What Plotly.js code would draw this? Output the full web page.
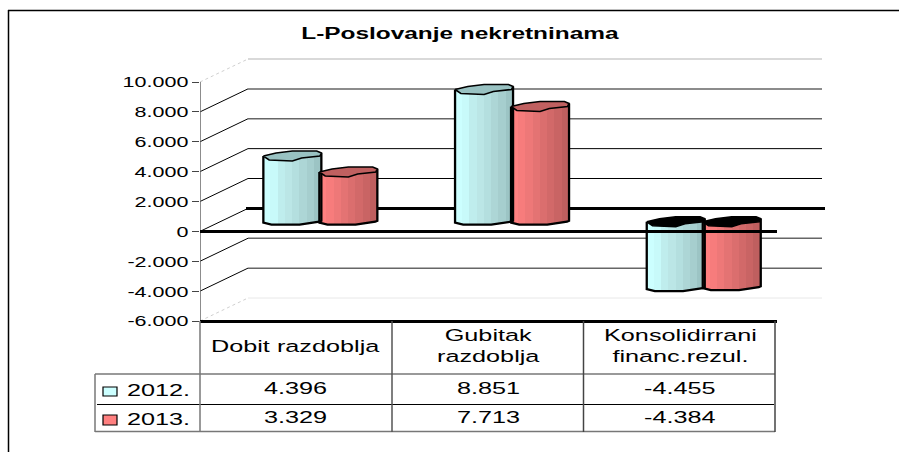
<!DOCTYPE html>
<html>
<head>
<meta charset="utf-8">
<script src="https://cdn.plot.ly/plotly-3.0.0.min.js"></script>
<style>
html,body{margin:0;padding:0;background:#fff;overflow:hidden}
#chart{width:899px;height:452px}
g.ytick{transform-origin:190px 0;transform:scaleX(1.39)}
.annotation-text{transform-box:fill-box;transform-origin:center;transform:scaleX(1.53)}
.gtitle{transform-box:fill-box;transform-origin:center;transform:scaleX(1.526)}
</style>
</head>
<body>
<div id="chart"></div>
<script>
// ---- data ----
const categories = ['Dobit razdoblja', 'Gubitak<br>razdoblja', 'Konsolidirrani<br>financ.rezul.'];
const years = ['2012.', '2013.'];
const values2012 = [4396, 8851, -4455];
const values2013 = [3329, 7713, -4384];
const yTickVals = [10000, 8000, 6000, 4000, 2000, 0, -2000, -4000, -6000];
const yTickLabels = ['10.000', '8.000', '6.000', '4.000', '2.000', '0', '-2.000', '-4.000', '-6.000'];
const titleText = 'L-Poslovanje nekretninama';

// ---- styles ----
const shades2012 = ['#CCFFFF','#C8FAFA','#BFEDED','#BBE6E6','#B4DFDF','#ADD6D6','#A6CECE','#9CC4C4'];
const shades2013 = ['#FF8080','#F77C7C','#EE7878','#E47373','#DB6E6E','#D26969','#C96464','#BF5F5F'];
const capColors = ['#99C2C2', '#C06060'];
const FONT = 'Liberation Sans, Arial, sans-serif';

// ---- page layout (pixels) ----
const L = 200, T = 58, PLOT_R = 826, PLOT_B = 321;
const W = PLOT_R - L, H = PLOT_B - T;
const pxPerCat = 191.7, pxPerUnit = 239 / 16000;
const xStart = -0.5, xEnd = xStart + W / pxPerCat;
const yMin = -6000, yMax = yMin + H / pxPerUnit;
const px = v => (v - L) / W;
const py = v => 1 - (v - T) / H;
const dx = p => p / pxPerCat;            // pixels -> axis units
const dy = p => p / pxPerUnit;

// 3-D depth of the box, in axis units
const wallDX = dx(48), wallDY = dy(23);
const barDX = dx(24.5), barDY = dy(9.7);
const seriesOffset = [dx(-28), dx(28)];
const halfW = 29;

// cylinder outlines as pixel offsets (y down)
const capOutline = [[-1,.04],[-.56,-3],[0,-5],[.84,-5],[1,-3],[.95,0],[.32,2],[0,5],[-.8,4],[-1,.04]];
const baseCurve = [[-1,1],[-.72,3],[.25,3],[.93,0],[1,-1]];
function baseAt(u){
  for(let i=1;i<baseCurve.length;i++){
    const a=baseCurve[i-1],b=baseCurve[i];
    if(u<=b[0]) return a[1]+(b[1]-a[1])*(u-a[0])/(b[0]-a[0]);
  }
  return baseCurve[baseCurve.length-1][1];
}

const traces = [];
const allSeries = [values2012, values2013];
const allShades = [shades2012, shades2013];

// cylinder bodies: vertical shaded bands, one bar trace per band
allSeries.forEach((vals, s) => {
  const shades = allShades[s], n = shades.length, bw = 2 * halfW / n;
  shades.forEach((col, b) => {
    const uPx = -halfW + (b + .5) * bw, u = uPx / halfW;
    const bases = vals.map(v => Math.min(0, v) + barDY - dy(baseAt(u)));
    const tops = vals.map(v => Math.max(0, v) + barDY);
    traces.push({
      type:'bar', name: years[s],
      x: categories.map((c, i) => i + seriesOffset[s] + barDX + dx(uPx)),
      base: bases, y: tops.map((t, i) => t - bases[i]),
      width: dx(bw + .4),
      marker:{color: col, line:{width:0}},
      hoverinfo:'skip', showlegend:false
    });
  });
});

// outlines and top faces of the cylinders
allSeries.forEach((vals, s) => {
  vals.forEach((v, i) => {
    const cx = i + seriesOffset[s] + barDX;
    const top = Math.max(0, v) + barDY, low = Math.min(0, v) + barDY;
    const ox = [cx - dx(halfW)], oy = [top];
    baseCurve.forEach(p => { ox.push(cx + dx(p[0]*halfW)); oy.push(low - dy(p[1])); });
    ox.push(cx + dx(halfW)); oy.push(top + dy(3));
    traces.push({type:'scatter', mode:'lines', x:ox, y:oy, line:{color:'#000',width:2.3},
      hoverinfo:'skip', showlegend:false, cliponaxis:false});
    traces.push({type:'scatter', mode:'lines', fill:'toself',
      x: capOutline.map(p => cx + dx(p[0]*halfW)),
      y: capOutline.map(p => top - dy(p[1])),
      fillcolor: v < 0 ? '#000' : capColors[s],
      line:{color:'#000',width:1.6}, hoverinfo:'skip', showlegend:false, cliponaxis:false});
  });
});

// front zero line runs over the cylinders
traces.push({type:'scatter', mode:'lines', x:[xStart, xStart + dx(577)], y:[0,0],
  line:{color:'#000',width:3}, hoverinfo:'skip', showlegend:false, cliponaxis:false});

const shapes = [];
// wall grid lines and the slanted floor-to-wall lines
yTickVals.forEach(v => {
  const edge = v === 10000 || v === -6000;
  const isZero = v === 0;
  const dark = v >= 2000 && v <= 4000;
  const backCol = v === 10000 ? '#cccccc' : v === -6000 ? '#e8e8e8' : isZero || dark ? '#000' : '#666666';
  shapes.push({type:'line', layer:'below', xref:'x', yref:'y',
    x0: xStart + wallDX + (isZero ? dx(-2) : 0), x1: xStart + wallDX + dx(isZero ? 577 : 574),
    y0: v + wallDY, y1: v + wallDY,
    line:{color:backCol, width: isZero ? 3 : (dark ? 1 : (edge && v<0 ? 1 : 1.5))}});
  shapes.push({type:'line', layer:'below', xref:'x', yref:'y',
    x0: xStart, x1: xStart + wallDX, y0: v, y1: v + wallDY,
    line:{color: edge ? '#d0d0d0' : '#000', width:1, dash: edge ? 'dot' : 'solid'}});
});
// value axis line
shapes.push({type:'line', layer:'below', xref:'x', yref:'y', x0:xStart, x1:xStart, y0:-6000, y1:10000,
  line:{color:'#666', width:1.5}});

// data table frame
function hLine(y, x0, x1, col, w){ shapes.push({type:'line', xref:'paper', yref:'paper', x0:px(x0), x1:px(x1), y0:py(y), y1:py(y), line:{color:col,width:w}}); }
function vLine(x, y0, y1, col, w){ shapes.push({type:'line', xref:'paper', yref:'paper', x0:px(x), x1:px(x), y0:py(y0), y1:py(y1), line:{color:col,width:w}}); }
hLine(321.5, 200, 777, '#000', 3);
hLine(374, 95, 775, '#777', 1.5);
hLine(404.5, 97, 774, '#000', 1);
hLine(431.5, 95, 775, '#777', 1.5);
vLine(95, 374, 432, '#777', 1.5);
vLine(200, 321, 432, '#777', 1.5);
vLine(392, 321, 432, '#555', 1.5);
vLine(583.5, 321, 432, '#444', 1.5);
vLine(775, 321, 432, '#444', 1.5);

// legend keys inside the table
[[387, 396, '#CCFFFF'], [415, 425, '#FF8080']].forEach(k => {
  shapes.push({type:'rect', xref:'paper', yref:'paper', x0:px(103), x1:px(117), y0:py(k[0]), y1:py(k[1]),
    fillcolor:k[2], line:{color:'#000', width:1.2}});
});

// chart frame (left and top only are in view)
hLine(10.5, 8, 899, '#000', 1.5);
vLine(8.5, 10, 452, '#000', 1.5);

const fmt = v => String(v).replace(/\B(?=(\d{3})+$)/g, '.');
const ann = (text, x, y, size) => ({text, xref:'paper', yref:'paper', x:px(x), y:py(y),
  xanchor:'center', yanchor:'middle', showarrow:false, align:'center',
  font:{family:FONT, size:size || 16.5, color:'#000'}});

const catCentres = [295, 488, 680];
const annotations = [];
categories.forEach((c, i) => {
  annotations.push(ann(c, catCentres[i], 346));
  annotations.push(ann(fmt(values2012[i]), catCentres[i], 388));
  annotations.push(ann(fmt(values2013[i]), catCentres[i], 417));
});
annotations.push(ann(years[0], 158, 390));
annotations.push(ann(years[1], 158, 419));

const layout = {
  width:899, height:452,
  margin:{l:L, r:899-PLOT_R, t:T, b:452-PLOT_B, pad:0},
  paper_bgcolor:'#fff', plot_bgcolor:'#fff',
  barmode:'overlay', bargap:0, showlegend:false,
  title:{text:'<b>'+titleText+'</b>', x:(460)/899, xanchor:'center', y:1-33/452, yanchor:'middle',
    font:{family:FONT, size:16, color:'#000'}},
  xaxis:{range:[xStart, xEnd], showgrid:false, zeroline:false, showline:false, showticklabels:false, ticks:'', fixedrange:true},
  yaxis:{range:[yMin, yMax], tickmode:'array', tickvals:yTickVals, ticktext:yTickLabels, showgrid:false, zeroline:false, showline:false,
    ticks:'outside', ticklen:7, tickwidth:1, tickcolor:'#444', tickfont:{family:FONT, size:15.5, color:'#000'}, fixedrange:true},
  shapes, annotations
};
Plotly.newPlot('chart', traces, layout, {displayModeBar:false, staticPlot:true});
</script>
</body>
</html>
